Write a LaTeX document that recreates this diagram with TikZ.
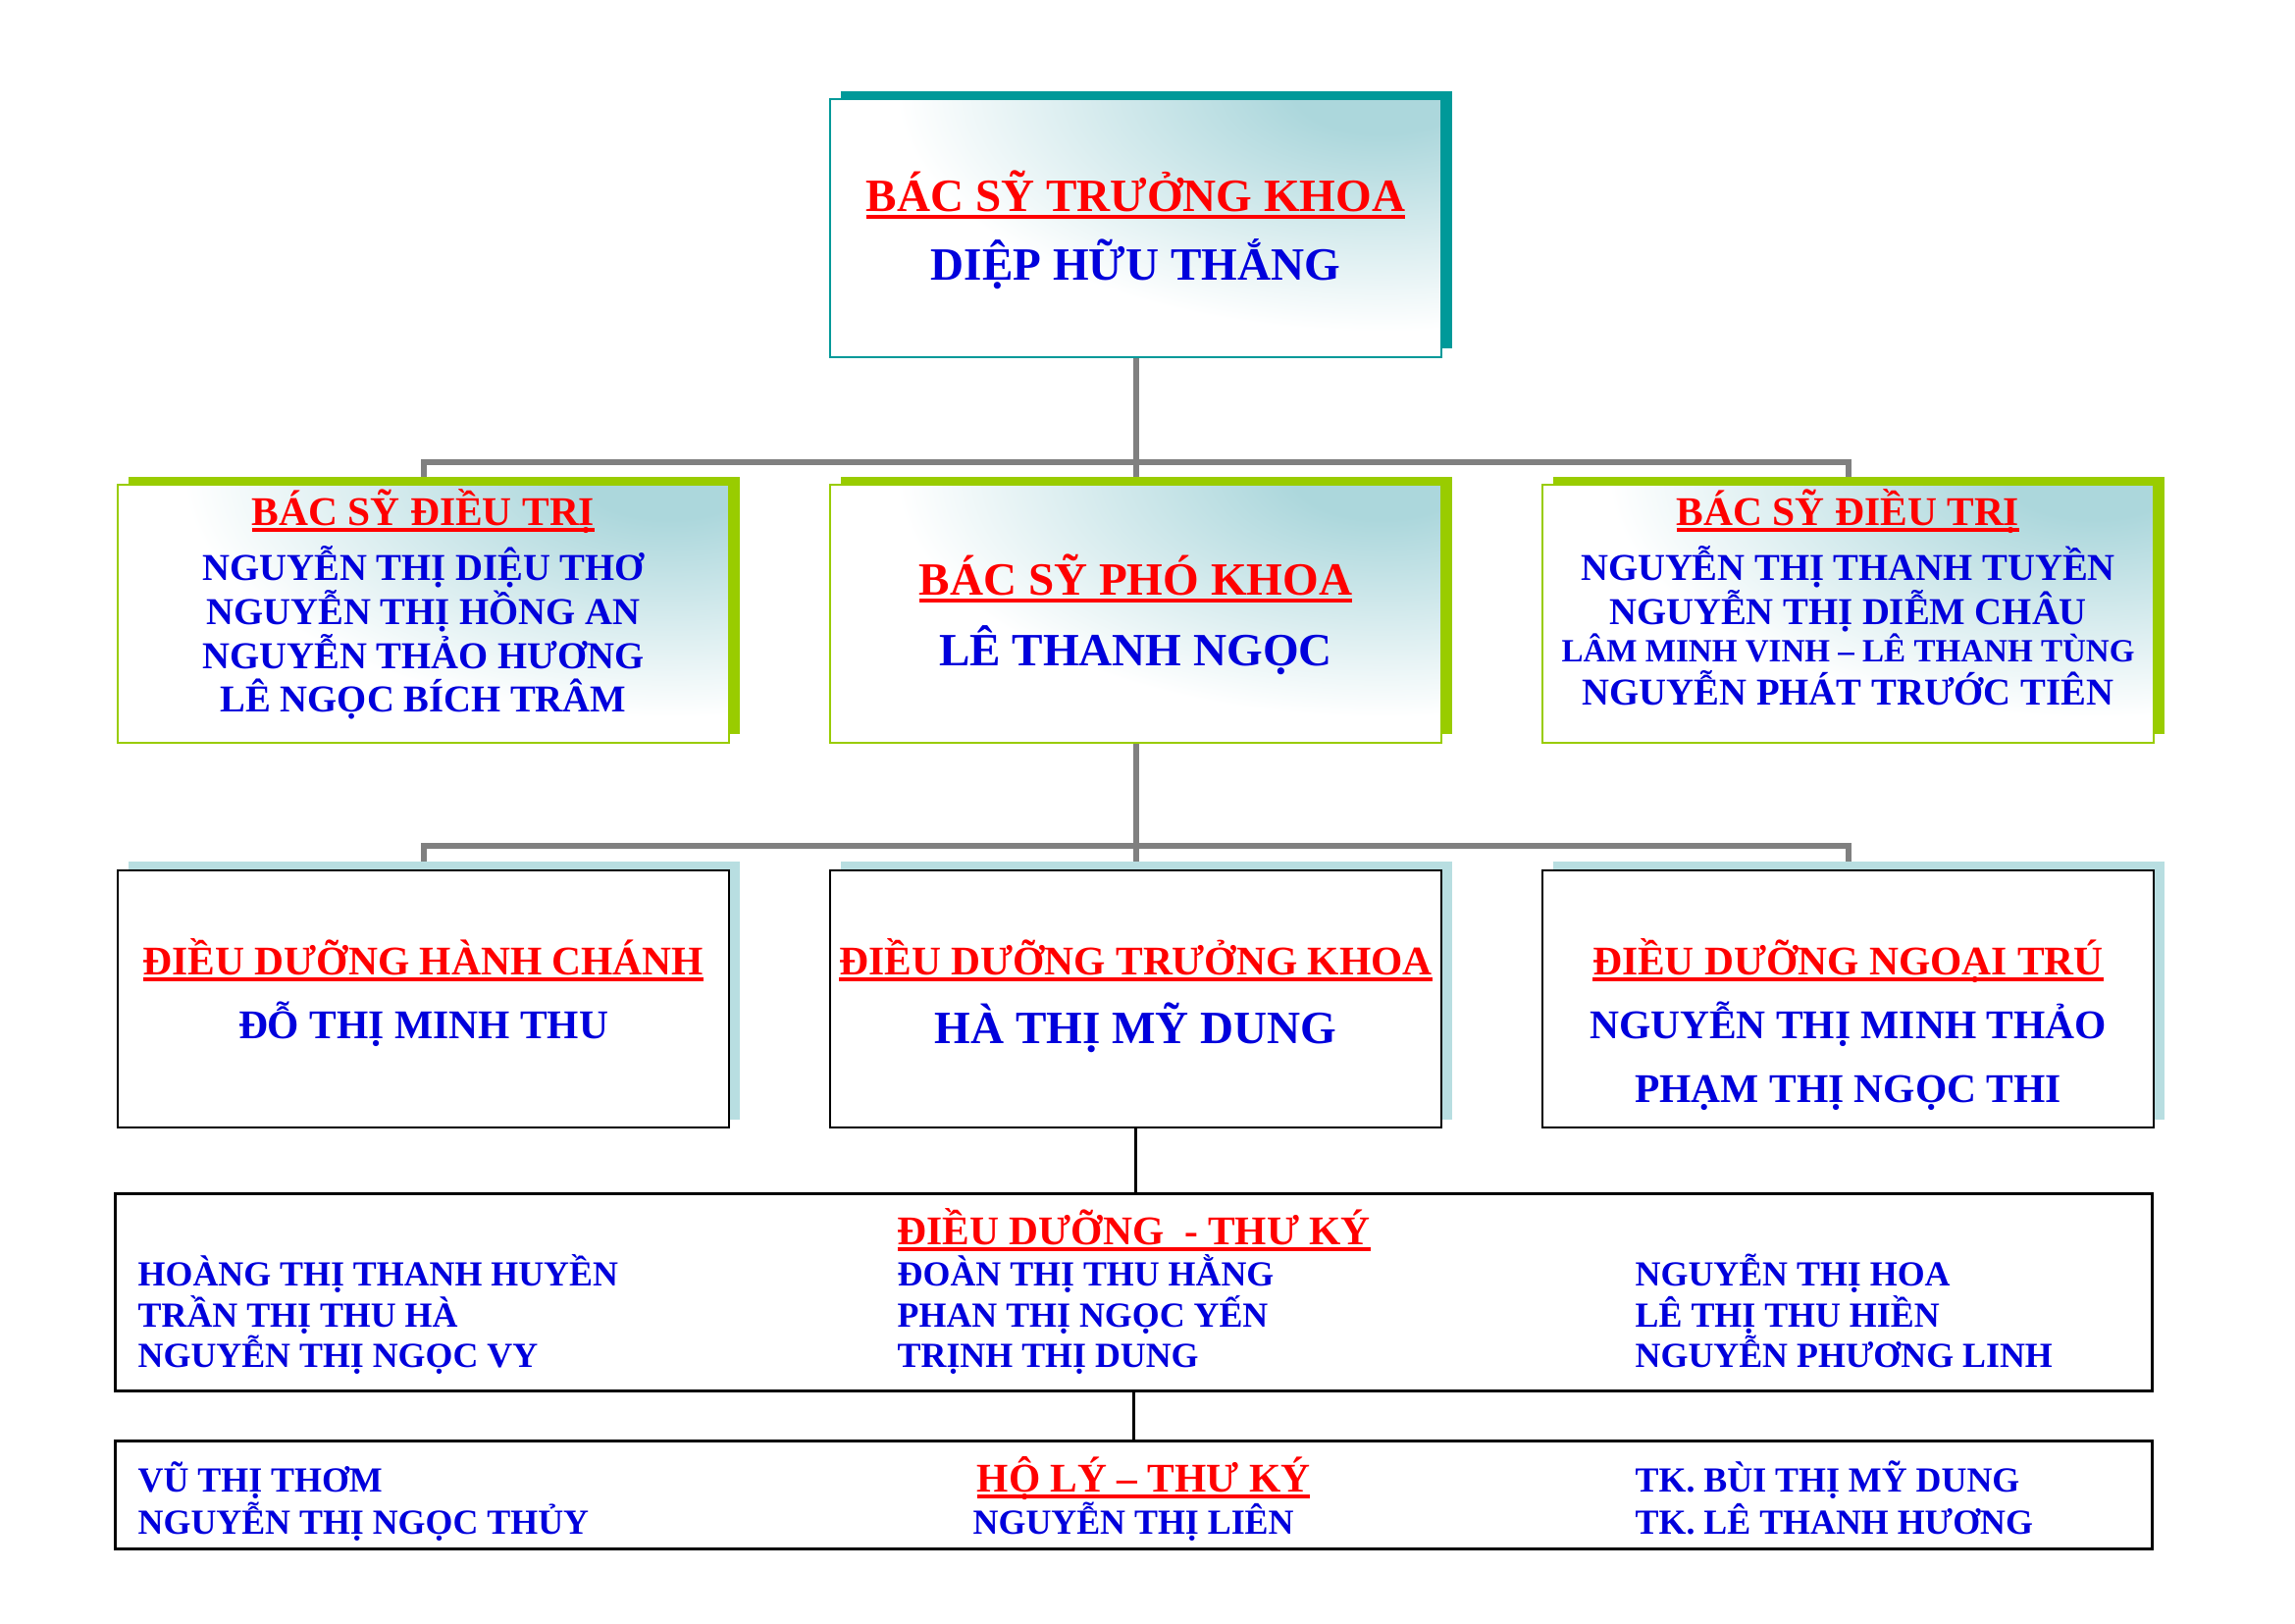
\documentclass[tikz,border=0pt]{standalone}
\usepackage{fontspec}
\setmainfont{Liberation Serif}
\usetikzlibrary{shadows,backgrounds}

\definecolor{txtred}{RGB}{255,0,0}
\definecolor{txtblue}{RGB}{0,0,220}
\definecolor{linegray}{RGB}{128,128,128}
\definecolor{shteal}{RGB}{0,153,153}
\definecolor{shgreen}{RGB}{153,204,0}
\definecolor{shpale}{RGB}{184,222,225}
\definecolor{tint}{RGB}{172,215,220}
\pgfdeclareradialshading{cornerglow}{\pgfpointorigin}{color(0bp)=(tint); color(4bp)=(tint); color(22bp)=(white); color(50bp)=(white)}

\newcommand\szA{\fontsize{13.4pt}{16pt}\selectfont}
\newcommand\szB{\fontsize{11.8pt}{14pt}\selectfont}
\newcommand\szC{\fontsize{11pt}{13pt}\selectfont}
\newcommand\szD{\fontsize{9.4pt}{11pt}\selectfont}
\newcommand\szE{\fontsize{10.2pt}{12pt}\selectfont}
\newcommand\redul[1]{\setbox0\hbox{#1}\rlap{\rule[-0.17em]{\wd0}{0.09em}}\box0}

\tikzset{
  box/.style={minimum width=6.23cm, minimum height=2.62cm, inner sep=0pt, outer sep=0pt, line width=0.02cm},
  tinted/.style={fill=white, path picture={\shade[shading=cornerglow]
      ([xshift=-0.4cm, yshift=0.1cm]path picture bounding box.north east) ellipse (5.4cm and 2.8cm);}},
  shadowed/.style={drop shadow={shadow xshift=0.11cm, shadow yshift=0.085cm, fill=#1, opacity=1}},
  widebox/.style={minimum width=20.75cm, inner sep=0pt, outer sep=0pt, line width=0.03cm, draw=black, fill=white},
  redtitle/.style={text=txtred, font=\bfseries#1, anchor=base, inner sep=0pt},
  bluename/.style={text=txtblue, font=\bfseries#1, anchor=base, inner sep=0pt},
  graylink/.style={draw=linegray, line width=0.06cm},
  blacklink/.style={draw=black, line width=0.027cm}
}

\begin{document}
\begin{tikzpicture}[x=0.01cm, y=-0.01cm]
	\useasboundingbox (0, 0) rectangle (2339, 1654);
	
	%%%%% BAC SY %%%%%
	\node[box, tinted, draw=shteal, shadowed=shteal] (truong) at (1157.5, 232.5) {};
	\node[redtitle=\szA] (truong-t) at (1157.5, 215) {\redul{BÁC SỸ TRƯỞNG KHOA}};
	\node[bluename=\szA] (truong-n) at (1157.5, 285) {DIỆP HỮU THẮNG};
	
	\node[box, tinted, draw=shgreen, shadowed=shgreen] (dtri1) at (431.5, 625.5) {};
	\node[redtitle=\szB] (dtri1-t) at (431.5, 535) {\redul{BÁC SỸ ĐIỀU TRỊ}};
	\node[bluename=\szC] (dtri1-n1) at (431.5, 591) {NGUYỄN THỊ DIỆU THƠ};
	\node[bluename=\szC] (dtri1-n2) at (431.5, 636) {NGUYỄN THỊ HỒNG AN};
	\node[bluename=\szC] (dtri1-n3) at (431.5, 681) {NGUYỄN THẢO HƯƠNG};
	\node[bluename=\szC] (dtri1-n4) at (431.5, 725) {LÊ NGỌC BÍCH TRÂM};
	
	\node[box, tinted, draw=shgreen, shadowed=shgreen] (pho) at (1157.5, 625.5) {};
	\node[redtitle=\szA] (pho-t) at (1157.5, 606) {\redul{BÁC SỸ PHÓ KHOA}};
	\node[bluename=\szA] (pho-n) at (1157.5, 678) {LÊ THANH NGỌC};
	
	\node[box, tinted, draw=shgreen, shadowed=shgreen] (dtri2) at (1883.5, 625.5) {};
	\node[redtitle=\szB] (dtri2-t) at (1883.5, 535) {\redul{BÁC SỸ ĐIỀU TRỊ}};
	\node[bluename=\szC] (dtri2-n1) at (1883.5, 591) {NGUYỄN THỊ THANH TUYỀN};
	\node[bluename=\szC] (dtri2-n2) at (1883.5, 636) {NGUYỄN THỊ DIỄM CHÂU};
	\node[bluename=\szD] (dtri2-n3) at (1883.5, 674) {LÂM MINH VINH – LÊ THANH TÙNG};
	\node[bluename=\szC] (dtri2-n4) at (1883.5, 718) {NGUYỄN PHÁT TRƯỚC TIÊN};
	
	%%%%% DIEU DUONG %%%%%
	\node[box, draw=black, fill=white, shadowed=shpale] (ddhc) at (431.5, 1018) {};
	\node[redtitle=\szB] (ddhc-t) at (431.5, 993) {\redul{ĐIỀU DƯỠNG HÀNH CHÁNH}};
	\node[bluename=\szB] (ddhc-n) at (431.5, 1058) {ĐỖ THỊ MINH THU};
	
	\node[box, draw=black, fill=white, shadowed=shpale] (ddtk) at (1157.5, 1018) {};
	\node[redtitle=\szB] (ddtk-t) at (1157.5, 993) {\redul{ĐIỀU DƯỠNG TRƯỞNG KHOA}};
	\node[bluename=\szA] (ddtk-n) at (1157.5, 1063) {HÀ THỊ MỸ DUNG};
	
	\node[box, draw=black, fill=white, shadowed=shpale] (ddnt) at (1883.5, 1018) {};
	\node[redtitle=\szB] (ddnt-t) at (1883.5, 993) {\redul{ĐIỀU DƯỠNG NGOẠI TRÚ}};
	\node[bluename=\szB] (ddnt-n1) at (1883.5, 1058) {NGUYỄN THỊ MINH THẢO};
	\node[bluename=\szB] (ddnt-n2) at (1883.5, 1123) {PHẠM THỊ NGỌC THI};
	
	\node[widebox, minimum height=2.0cm] (ddtky) at (1155.5, 1317) {};
	\node[redtitle=\szB, anchor=base west] (ddtky-t) at (914, 1268) {\redul{ĐIỀU DƯỠNG~ - THƯ KÝ}};
	\node[bluename=\szE, anchor=base west] (ddtky-a1) at (140, 1310) {HOÀNG THỊ THANH HUYỀN};
	\node[bluename=\szE, anchor=base west] (ddtky-a2) at (140, 1352) {TRẦN THỊ THU HÀ};
	\node[bluename=\szE, anchor=base west] (ddtky-a3) at (140, 1393) {NGUYỄN THỊ NGỌC VY};
	\node[bluename=\szE, anchor=base west] (ddtky-b1) at (914, 1310) {ĐOÀN THỊ THU HẰNG};
	\node[bluename=\szE, anchor=base west] (ddtky-b2) at (914, 1352) {PHAN THỊ NGỌC YẾN};
	\node[bluename=\szE, anchor=base west] (ddtky-b3) at (914, 1393) {TRỊNH THỊ DUNG};
	\node[bluename=\szE, anchor=base west] (ddtky-c1) at (1666, 1310) {NGUYỄN THỊ HOA};
	\node[bluename=\szE, anchor=base west] (ddtky-c2) at (1666, 1352) {LÊ THỊ THU HIỀN};
	\node[bluename=\szE, anchor=base west] (ddtky-c3) at (1666, 1393) {NGUYỄN PHƯƠNG LINH};
	
	\node[widebox, minimum height=1.09cm] (holy) at (1155.5, 1523.5) {};
	\node[redtitle=\szB, anchor=base west] (holy-t) at (995, 1520) {\redul{HỘ LÝ – THƯ KÝ}};
	\node[bluename=\szE, anchor=base west] (holy-a1) at (140, 1520) {VŨ THỊ THƠM};
	\node[bluename=\szE, anchor=base west] (holy-a2) at (140, 1563) {NGUYỄN THỊ NGỌC THỦY};
	\node[bluename=\szE, anchor=base west] (holy-b) at (991, 1563) {NGUYỄN THỊ LIÊN};
	\node[bluename=\szE, anchor=base west] (holy-c1) at (1666, 1520) {TK. BÙI THỊ MỸ DUNG};
	\node[bluename=\szE, anchor=base west] (holy-c2) at (1666, 1563) {TK. LÊ THANH HƯƠNG};
	
	%%%%% LINES %%%%%
	\begin{scope}[on background layer]
		\coordinate (bar1) at (1157.5, 471);
		\coordinate (bar2) at (1157.5, 862);
		\draw[graylink] (truong.south) -- (pho.north);
		\draw[graylink] (dtri1.north) |- (bar1) -| (dtri2.north);
		\draw[graylink] (pho.south) -- (ddtk.north);
		\draw[graylink] (ddhc.north) |- (bar2) -| (ddnt.north);
		\draw[blacklink] (ddtk.south) -- (ddtk.south |- ddtky.north);
		\draw[blacklink] (ddtky.south) -- (holy.north);
	\end{scope}
\end{tikzpicture}
\end{document}
